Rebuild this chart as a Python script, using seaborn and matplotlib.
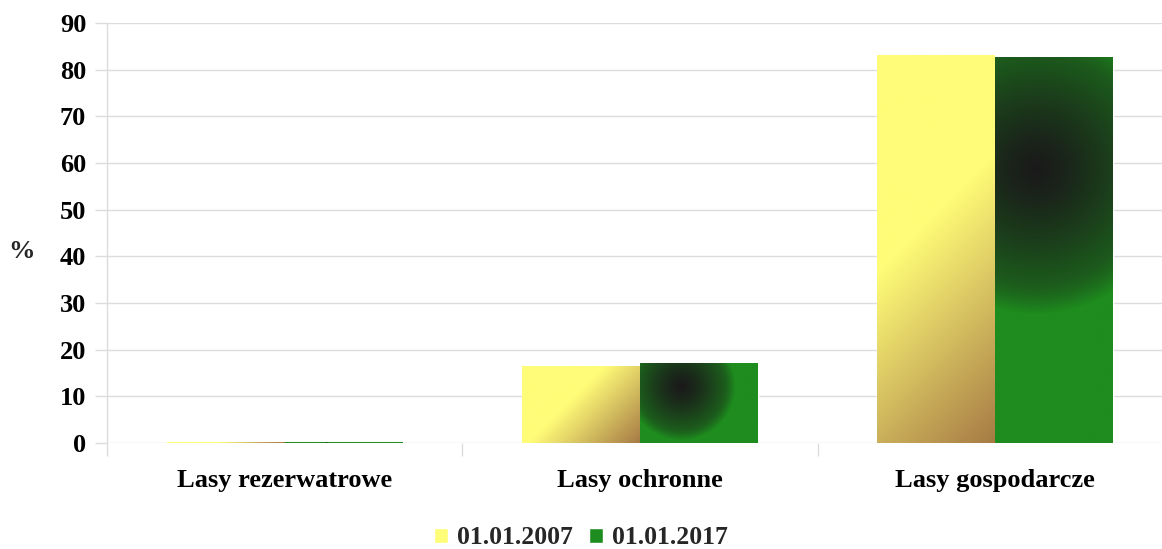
"""
Forest area structure by category, 2007 vs 2017 (%).
"""

import matplotlib.pyplot as plt
import numpy as np
import pandas as pd
import seaborn as sns
from matplotlib.colors import to_rgb

categories = ["Lasy rezerwatrowe", "Lasy ochronne", "Lasy gospodarcze"]
series = ["01.01.2007", "01.01.2017"]
values_2007 = [0.3, 16.6, 83.1]
values_2017 = [0.2, 17.1, 82.7]
y_ticks = [0, 10, 20, 30, 40, 50, 60, 70, 80, 90]

df = pd.DataFrame({
    "category": categories * 2,
    "series": [series[0]] * 3 + [series[1]] * 3,
    "value": values_2007 + values_2017,
})

YELLOW = "#FFFC78"
BROWN = "#A67B45"
GREEN = "#1E8C1E"
MIDGREEN = "#1C561C"
DARK = "#1A1A1A"
GRID = "#DCDCDC"

sns.set_theme(style="white")
plt.rcParams["font.family"] = ["Liberation Serif", "DejaVu Serif"]
plt.rcParams["font.weight"] = "bold"

fig = plt.figure(figsize=(11.62, 5.49), dpi=100)
# category band is ~355 px wide, so the right edge runs past the image
ax = fig.add_axes([107 / 1162, 1 - 443 / 549, 1066 / 1162, 420 / 549])

sns.barplot(data=df, x="category", y="value", hue="series", order=categories,
            hue_order=series, palette=[YELLOW, GREEN], saturation=1,
            width=0.664, ax=ax, zorder=2)

ax.set_xlim(-0.5, 2.5)
ax.set_ylim(0, 90)
ax.set_autoscale_on(False)
fig.canvas.draw()


def pixel_size(x0, y0, x1, y1):
    p0 = ax.transData.transform((x0, y0))
    p1 = ax.transData.transform((x1, y1))
    return abs(p1[0] - p0[0]), abs(p1[1] - p0[1])


def yellow_gradient(w, h):
    nx, ny = max(int(w), 2), max(int(h), 2)
    u, v = np.meshgrid(np.linspace(0, 1, nx), np.linspace(0, 1, ny))
    # diagonal blend: brown at bottom-right, yellow toward top-left
    s = ((1 - u) * w + v * h) / max(0.57 * (w + h), 1)
    s = np.clip(s, 0, 1)[..., None]
    return np.array(to_rgb(BROWN)) * (1 - s) + np.array(to_rgb(YELLOW)) * s


def green_gradient(w, h):
    nx, ny = max(int(w), 2), max(int(h), 2)
    u, v = np.meshgrid(np.linspace(0, 1, nx), np.linspace(0, 1, ny))
    rad = min(0.68 * h, 145)
    cx, cy = 0.35 * w, 0.71 * h
    r = np.sqrt((u * w - cx) ** 2 + (v * h - cy) ** 2) / max(rad, 1)
    r = np.clip(r, 0, 1)[..., None]
    dark, mid, green = (np.array(to_rgb(c)) for c in (DARK, MIDGREEN, GREEN))
    inner = np.clip(r / 0.75, 0, 1) ** 1.3
    outer = np.clip((r - 0.75) / 0.25, 0, 1) ** 1.5
    col = dark * (1 - inner) + mid * inner
    return col * (1 - outer) + green * outer


jobs = []
for container, maker in zip(ax.containers, [yellow_gradient, green_gradient]):
    for bar in container:
        if bar.get_height() <= 0:
            continue
        x0, y0 = bar.get_x(), bar.get_y()
        x1, y1 = x0 + bar.get_width(), y0 + bar.get_height()
        w, h = pixel_size(x0, y0, x1, y1)
        jobs.append((bar, maker(w, h), [x0, x1, y0, y1]))

for bar, img, extent in jobs:
    im = ax.imshow(img, extent=extent, origin="lower", aspect="auto",
                   zorder=2.5, interpolation="bilinear")
    im.set_clip_path(bar)

ax.set_xlim(-0.5, 2.5)
ax.set_ylim(0, 90)
ax.set_yticks(y_ticks)
ax.set_yticklabels([str(t) for t in y_ticks], fontsize=19, fontweight="bold")
ax.yaxis.grid(True, color=GRID, linewidth=1)
ax.set_axisbelow(True)

ax.set_xticks(range(len(categories)))
ax.set_xticklabels(categories, fontsize=19, fontweight="bold")
ax.set_xticks([-0.5, 0.5, 1.5, 2.5], minor=True)
ax.tick_params(axis="x", which="major", length=0, pad=19, colors="black")
ax.tick_params(axis="x", which="minor", length=9, width=1, color=GRID,
               direction="out", bottom=True)
ax.tick_params(axis="y", length=9, width=1, color=GRID, pad=6, left=True,
               labelcolor="black")

for side in ["top", "right", "bottom"]:
    ax.spines[side].set_visible(False)
ax.spines["left"].set_color(GRID)
ax.spines["left"].set_linewidth(1)

ax.set_xlabel("")
ax.set_ylabel("%", fontsize=19, fontweight="bold", rotation=0, va="center")
ax.yaxis.set_label_coords(-0.08, 0.455)

handles, labels = ax.get_legend_handles_labels()
ax.legend_.remove()
fig.legend(handles, labels, loc="lower center", bbox_to_anchor=(0.5, -0.043),
           ncol=2, frameon=False, prop={"size": 18.5, "weight": "bold"},
           handlelength=0.55, handleheight=0.55, handletextpad=0.35,
           columnspacing=0.6)

fig.savefig("out.png", dpi=100)
plt.close(fig)
